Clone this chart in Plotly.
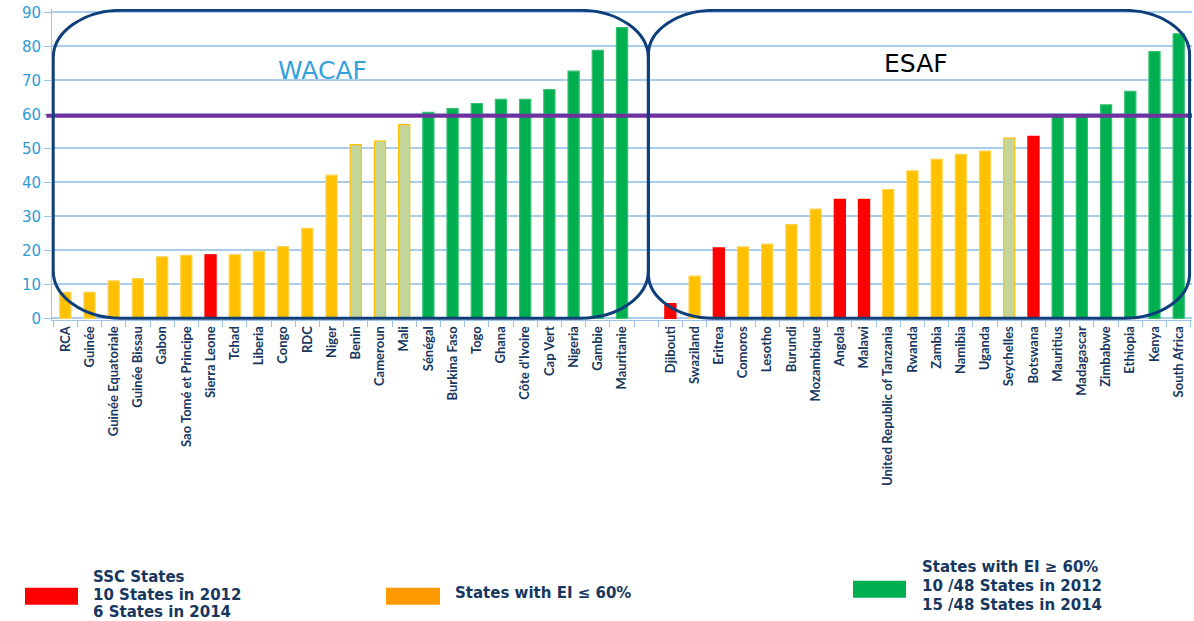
import plotly.graph_objects as go

# WACAF countries (left group) and ESAF countries (right group)
wacaf_names = ["RCA", "Guinée", "Guinée Equatoriale", "Guinée Bissau", "Gabon",
               "Sao Tomé et Principe", "Sierra Leone", "Tchad", "Liberia", "Congo",
               "RDC", "Niger", "Benin", "Cameroun", "Mali", "Sénégal", "Burkina Faso",
               "Togo", "Ghana", "Côte d'Ivoire", "Cap Vert", "Nigeria", "Gambie", "Mauritanie"]
wacaf_values = [7.6, 7.6, 11.0, 11.7, 18.1, 18.5, 18.7, 18.7, 19.7, 21.1, 26.5, 42.1,
                51.1, 52.1, 57.0, 60.6, 61.7, 63.2, 64.4, 64.4, 67.3, 72.7, 78.8, 85.5]
wacaf_status = ["low", "low", "low", "low", "low", "low", "ssc", "low", "low", "low",
                "low", "low", "mid", "mid", "mid", "high", "high", "high", "high",
                "high", "high", "high", "high", "high"]

esaf_names = ["Djibouti", "Swaziland", "Eritrea", "Comoros", "Lesotho", "Burundi",
              "Mozambique", "Angola", "Malawi", "United Republic of Tanzania", "Rwanda",
              "Zambia", "Namibia", "Uganda", "Seychelles", "Botswana", "Mauritius",
              "Madagascar", "Zimbabwe", "Ethiopia", "Kenya", "South Africa"]
esaf_values = [4.3, 12.4, 20.7, 21.0, 21.8, 27.6, 32.1, 35.0, 35.0, 37.9, 43.4, 46.8,
               48.2, 49.2, 53.0, 53.5, 59.6, 59.6, 62.8, 66.8, 78.5, 83.7]
esaf_status = ["ssc", "low", "ssc", "low", "low", "low", "low", "ssc", "ssc", "low",
               "low", "low", "low", "low", "mid", "ssc", "high", "high", "high", "high",
               "high", "high"]

threshold = 59.6
y_ticks = [0, 10, 20, 30, 40, 50, 60, 70, 80, 90]

fill = {"ssc": "#FF0000", "low": "#FFC000", "mid": "#C3D69B", "high": "#00B050"}
edge = {"ssc": "#FF0000", "low": "#FFD24D", "mid": "#FFC000", "high": "#33C06F"}

names = wacaf_names + [""] + esaf_names
values = wacaf_values + [None] + esaf_values
status = wacaf_status + ["low"] + esaf_status
xpos = list(range(len(names)))

fig = go.Figure()
fig.add_trace(go.Bar(
    x=xpos, y=values, width=0.46,
    marker=dict(color=[fill[s] for s in status],
                line=dict(color=[edge[s] for s in status], width=1.2)),
    showlegend=False, hoverinfo="skip"))

# plot area in pixels
L, R, T, B = 52, 2, 8.6, 301
W, H = 1194 - L - R, 621 - T - B


def px(x, y):
    return (x - L) / W, (621 - B - y) / H


def rounded(x0, x1, y0, y1, rx, ry):
    k = 0.55
    return (f"M {x0+rx},{y1} L {x1-rx},{y1} "
            f"C {x1-rx+k*rx},{y1} {x1},{y1-ry+k*ry} {x1},{y1-ry} "
            f"L {x1},{y0+ry} "
            f"C {x1},{y0+ry-k*ry} {x1-rx+k*rx},{y0} {x1-rx},{y0} "
            f"L {x0+rx},{y0} "
            f"C {x0+rx-k*rx},{y0} {x0},{y0+ry-k*ry} {x0},{y0+ry} "
            f"L {x0},{y1-ry} "
            f"C {x0},{y1-ry+k*ry} {x0+rx-k*rx},{y1} {x0+rx},{y1} Z")


shapes = [
    dict(type="line", xref="paper", yref="y", x0=-0.005, x1=1, y0=threshold, y1=threshold,
         line=dict(color="#7030A0", width=4), layer="above"),
    dict(type="path", xref="x", yref="y", path=rounded(-0.5, 24.09, 0, 90.6, 2.8, 14),
         line=dict(color="#0F3F7A", width=3), layer="above"),
    dict(type="path", xref="x", yref="y", path=rounded(24.09, 46.45, 0, 90.6, 2.7, 13),
         line=dict(color="#0F3F7A", width=3), layer="above"),
]

annotations = [
    dict(x=10.62, y=73, xref="x", yref="y", text="WACAF", showarrow=False,
         font=dict(family="DejaVu Sans", size=25, color="#33A1DC")),
    dict(x=35.13, y=75, xref="x", yref="y", text="ESAF", showarrow=False,
         font=dict(family="DejaVu Sans", size=25, color="#000000")),
]

# legend built by hand
legend_boxes = [(25, 78, 588, 605, "#FF0000"), (386, 440, 588, 605, "#FF9900"),
                (853, 906, 581, 598, "#00B050")]
for x0, x1, y0, y1, c in legend_boxes:
    a0, b0 = px(x0, y1)
    a1, b1 = px(x1, y0)
    shapes.append(dict(type="rect", xref="paper", yref="paper", x0=a0, x1=a1, y0=b0, y1=b1,
                       fillcolor=c, line=dict(width=0)))

legend_text = [(91, 577, "SSC States"), (91, 595, "10 States in 2012"),
               (91, 612, "6 States in 2014"), (453, 593, "States with EI ≤ 60%"),
               (920, 567, "States with EI ≥ 60%"), (920, 586, "10 /48 States in 2012"),
               (920, 605, "15 /48 States in 2014")]
for x, y, t in legend_text:
    a, b = px(x, y)
    annotations.append(dict(x=a, y=b, xref="paper", yref="paper", text=t, showarrow=False,
                            xanchor="left", yanchor="middle",
                            font=dict(family="DejaVu Sans", size=15, color="#17375E",
                                      weight="bold")))

fig.update_layout(
    width=1194, height=621,
    margin=dict(l=L, r=R, t=T, b=B),
    plot_bgcolor="white", paper_bgcolor="white",
    bargap=0.5,
    shapes=shapes, annotations=annotations,
    xaxis=dict(range=[-0.55, 46.55], tickmode="array", tickvals=xpos, ticktext=names,
               tickangle=-90, ticks="", showgrid=False, zeroline=False,
               showline=True, linecolor="#9DC3E6", linewidth=1,
               minor=dict(tick0=-0.5, dtick=1, ticks="outside", ticklen=6,
                          tickcolor="#9DC3E6", showgrid=False),
               tickfont=dict(family="Lato", size=13, color="#17375E",
                             weight="bold")),
    yaxis=dict(range=[-0.5, 91], tickvals=y_ticks, showgrid=True, gridcolor="#A9CDEB",
               gridwidth=1.5, zeroline=False, showline=True, linecolor="#9DC3E6",
               ticks="outside", ticklen=7, tickcolor="#9DC3E6",
               tickfont=dict(family="DejaVu Sans", size=15, color="#2E9BD6")),
)

fig.write_html("out.html", config={"displayModeBar": False},
               post_script="document.body.style.margin='0';")
